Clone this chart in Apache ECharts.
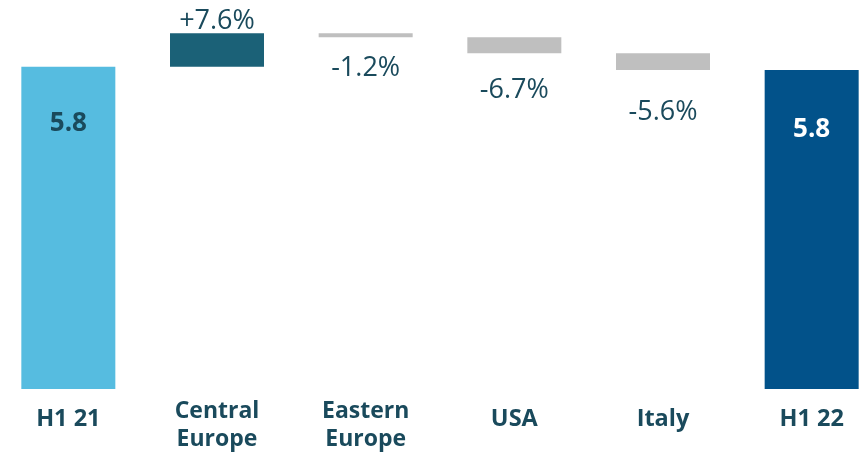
<!DOCTYPE html>
<html>
<head>
<meta charset="utf-8">
<script src="https://cdn.jsdelivr.net/npm/echarts@6/dist/echarts.min.js"></script>
<style>
html,body{margin:0;padding:0;background:#fff;overflow:hidden;width:859px;height:455px;}
#chart{position:absolute;left:-6.3px;top:0;width:891.6px;height:455px;}
</style>
</head>
<body>
<div id="chart"></div>
<script>
// ---- data ----
const categories = ['H1 21', 'Central\nEurope', 'Eastern\nEurope', 'USA', 'Italy', 'H1 22'];
const startTotal = 5.8;
const changes = [0.6, -0.07, -0.29, -0.3];   // Central Europe, Eastern Europe, USA, Italy
const endTotal = 5.74;
const valueLabels = ['5.8', '+7.6%', '-1.2%', '-6.7%', '-5.6%', '5.8'];

// ---- styles ----
const TEXT = '#1A4A5C';
const C_START = '#56BCE0';
const C_POS = '#1B6177';
const C_NEG = '#BFBFBF';
const C_END = '#02528A';
const negLabelDist = [18, 23, 29];

// build waterfall (invisible base + visible segment)
const baseData = [0];
const segData = [];
let running = startTotal;
segData.push({
  value: startTotal,
  itemStyle: { color: C_START },
  label: { show: true, position: 'insideTop', distance: 44, color: TEXT, fontWeight: 'bold', fontSize: 26 }
});
let negIdx = 0;
changes.forEach(function (c) {
  const next = running + c;
  baseData.push(Math.min(running, next));
  const item = { value: Math.abs(c) };
  if (c >= 0) {
    item.itemStyle = { color: C_POS };
    item.label = { show: true, position: 'top', distance: -1, color: TEXT, fontSize: 27 };
  } else {
    item.itemStyle = { color: C_NEG };
    item.label = { show: true, position: 'bottom', distance: negLabelDist[negIdx++], color: TEXT, fontSize: 27 };
  }
  segData.push(item);
  running = next;
});
baseData.push(0);
segData.push({
  value: endTotal,
  itemStyle: { color: C_END },
  label: { show: true, position: 'insideTop', distance: 47, color: '#ffffff', fontWeight: 'bold', fontSize: 26 }
});

const chart = echarts.init(document.getElementById('chart'), null, { renderer: 'canvas' });
chart.setOption({
  animation: false,
  textStyle: { fontFamily: '"Open Sans", "Noto Sans", sans-serif' },
  grid: { left: 0, top: 0, right: 0, bottom: 66, containLabel: false },
  xAxis: {
    type: 'category',
    data: categories,
    axisLine: { show: false },
    axisTick: { show: false },
    axisLabel: {
      interval: 0,
      margin: 8,
      verticalAlign: 'top',
      formatter: function (v) {
        return v.indexOf('\n') >= 0 ? '{m|' + v + '}' : '{s|' + v + '}';
      },
      rich: {
        m: { fontFamily: '"Open Sans", sans-serif', fontWeight: 'bold', fontSize: 23, color: TEXT, lineHeight: 28, align: 'center' },
        s: { fontFamily: '"Open Sans", sans-serif', fontWeight: 'bold', fontSize: 23.5, color: TEXT, lineHeight: 44, align: 'center' }
      }
    }
  },
  yAxis: {
    type: 'value', min: 0, max: 7, show: false,
    splitLine: { show: false }
  },
  series: [
    {
      type: 'bar', stack: 'w', data: baseData, barWidth: 94,
      itemStyle: { color: 'rgba(0,0,0,0)' }, silent: true
    },
    {
      type: 'bar', stack: 'w', data: segData, barWidth: 94,
      label: {
        fontFamily: '"Open Sans", sans-serif',
        formatter: function (p) { return valueLabels[p.dataIndex]; }
      }
    }
  ]
});
</script>
</body>
</html>
